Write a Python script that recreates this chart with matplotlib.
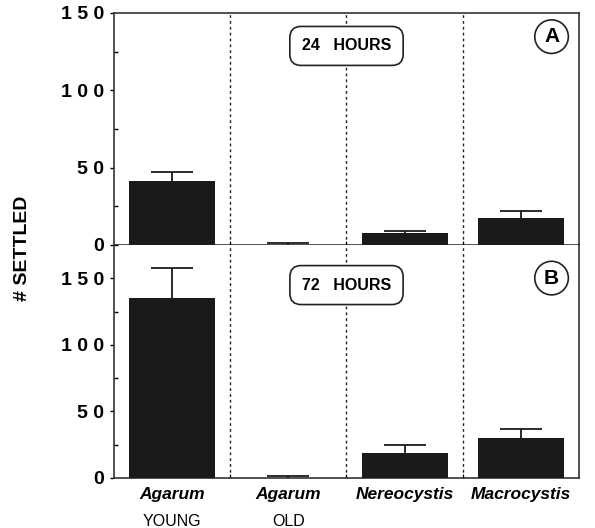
import numpy as np
import matplotlib.pyplot as plt
from matplotlib.ticker import MultipleLocator, FuncFormatter

plt.rcParams['font.family'] = ['Liberation Sans', 'DejaVu Sans']

species = ['Agarum', 'Agarum', 'Nereocystis', 'Macrocystis']
age = ['YOUNG', 'OLD', '', '']

# mean number settled and upper error (SE)
settled_24 = [41.6, 0.3, 7.5, 17.5]
err_24 = [5.4, 1.2, 1.3, 4.5]
settled_72 = [135.5, 0.3, 18.6, 30.4]
err_72 = [22.5, 1.5, 6.4, 6.3]

panels = [('24   HOURS', 'A', settled_24, err_24, 150),
          ('72   HOURS', 'B', settled_72, err_72, 175)]

fig = plt.figure(figsize=(5.95, 5.28), dpi=100)
ax1 = fig.add_axes([0.1916, 0.536, 0.7815, 0.4394])
ax2 = fig.add_axes([0.1916, 0.0947, 0.7815, 0.4413])

x = np.arange(len(species)) + 0.5
spaced = FuncFormatter(lambda v, p: ' '.join(str(int(v))))

for ax, (hrs, letter, vals, errs, ymax) in zip([ax1, ax2], panels):
    ax.bar(x, vals, width=0.74, color='#1a1a1a', zorder=3)
    tops = np.array(vals) + np.array(errs)
    # upper error bars only
    ax.vlines(x, vals, tops, color='#1a1a1a', lw=1.3, zorder=4)
    ax.hlines(tops, x - 0.18, x + 0.18, color='#1a1a1a', lw=1.3, zorder=4)
    for d in [1, 2, 3]:
        ax.axvline(d, color='#222222', lw=1.0, ls=(0, (2, 2.2)), zorder=1)
    ax.set_xlim(0, 4)
    ax.set_ylim(0, ymax)
    ax.yaxis.set_major_locator(MultipleLocator(50))
    ax.yaxis.set_minor_locator(MultipleLocator(25))
    ax.yaxis.set_major_formatter(spaced)
    ax.tick_params(axis='y', which='major', direction='out', length=3, width=1,
                   labelsize=14, pad=4)
    ax.tick_params(axis='y', which='minor', direction='in', length=3, width=1)
    ax.set_xticks([1, 2, 3])
    ax.tick_params(axis='x', direction='in', length=3, labelbottom=False)
    for lbl in ax.get_yticklabels():
        lbl.set_fontweight('bold')
    for s in ax.spines.values():
        s.set_linewidth(1.2)
        s.set_color('#333333')
    ax.text(0.5, 0.858 if letter == 'A' else 0.828, hrs, transform=ax.transAxes,
            ha='center', va='center', fontsize=11.5, fontweight='bold',
            bbox=dict(boxstyle='round,pad=0.75,rounding_size=0.7', fc='white',
                      ec='#222222', lw=1.2), zorder=5)
    ax.text(0.941, 0.898 if letter == 'A' else 0.858, letter, transform=ax.transAxes,
            ha='center', va='center', fontsize=15, fontweight='bold',
            bbox=dict(boxstyle='circle,pad=0.35', fc='white', ec='#222222', lw=1.2),
            zorder=5)

ax2.spines['top'].set_visible(False)

for xi, sp, ag in zip(x, species, age):
    ax2.text(xi, -0.07, sp, transform=ax2.get_xaxis_transform(), ha='center',
             va='center', fontsize=12.5, fontweight='bold', style='italic')
    if ag:
        ax2.text(xi, -0.185, ag, transform=ax2.get_xaxis_transform(), ha='center',
                 va='center', fontsize=11.5)

fig.text(0.037, 0.53, '# SETTLED', rotation=90, ha='center', va='center',
         fontsize=14, fontweight='bold')

fig.savefig('out.png', dpi=100)
